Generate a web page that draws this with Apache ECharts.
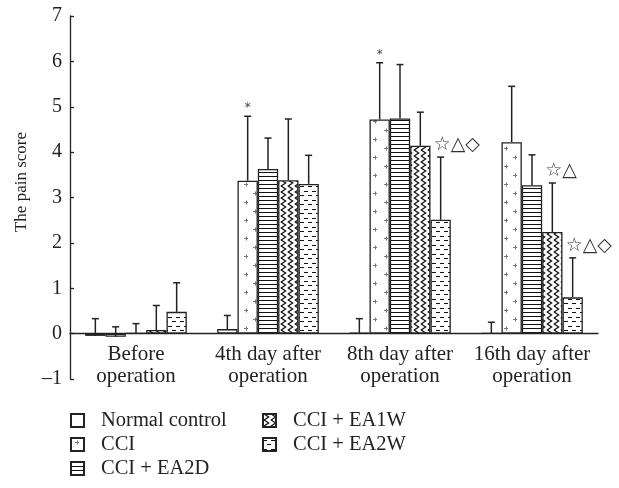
<!DOCTYPE html>
<html><head><meta charset="utf-8">
<script src="https://cdn.jsdelivr.net/npm/echarts@6/dist/echarts.min.js"></script>
<style>html,body{margin:0;padding:0;background:#fff}#c{width:619px;height:488px}</style>
</head><body><div id="c"></div>
<script>
// ---- data ----
const categories = ['Before\noperation', '4th day after\noperation', '8th day after\noperation', '16th day after\noperation'];
const seriesNames = ['Normal control', 'CCI', 'CCI + EA2D', 'CCI + EA1W', 'CCI + EA2W'];
const normalControl = [-0.05, 0.10, 0.02, 0.01];
const normalControlUpper = [0.33, 0.40, 0.33, 0.25];
const cci = [-0.07, 3.37, 4.72, 4.22];
const cciUpper = [0.15, 4.79, 5.97, 5.45];
const ea2d = [0.01, 3.63, 4.74, 3.27];
const ea2dUpper = [0.22, 4.31, 5.93, 3.94];
const ea1w = [0.08, 3.38, 4.14, 2.24];
const ea1wUpper = [0.62, 4.73, 4.88, 3.32];
const ea2w = [0.48, 3.30, 2.51, 0.80];
const ea2wUpper = [1.12, 3.93, 3.89, 1.67];
const yTicks = [-1, 0, 1, 2, 3, 4, 5, 6, 7];
const annotations = [
  { cat: 1, s: 1, text: '*' },
  { cat: 2, s: 1, text: '*' },
  { cat: 2, s: 4, text: '☆△◇' },
  { cat: 3, s: 3, text: '☆△' },
  { cat: 3, s: 4, text: '☆△◇' }
];

const values = [normalControl, cci, ea2d, ea1w, ea2w];
const uppers = [normalControlUpper, cciUpper, ea2dUpper, ea1wUpper, ea2wUpper];

// ---- patterns ----
function tile(w, h, draw) {
  const c = document.createElement('canvas');
  c.width = w; c.height = h;
  const g = c.getContext('2d');
  g.fillStyle = '#fff'; g.fillRect(0, 0, w, h);
  draw(g);
  return { image: c, repeat: 'repeat' };
}
const patWhite = '#ffffff';
const patPlus = tile(20, 18, g => {
  g.strokeStyle = '#777'; g.lineWidth = 1;
  [[6, 4], [15, 13]].forEach(([x, y]) => {
    g.beginPath(); g.moveTo(x - 2, y + 0.5); g.lineTo(x + 2, y + 0.5);
    g.moveTo(x + 0.5, y - 1.5); g.lineTo(x + 0.5, y + 2.5); g.stroke();
  });
});
const patHLines = tile(4, 4, g => {
  g.fillStyle = '#111'; g.fillRect(0, 0, 4, 1);
});
const patZig = tile(7, 6, g => {
  g.strokeStyle = '#111'; g.lineWidth = 1.3;
  g.beginPath(); g.moveTo(0.8, -0.2); g.lineTo(5.6, 3); g.lineTo(0.8, 6.2); g.stroke();
});
const patDash = tile(8, 9, g => {
  g.fillStyle = '#111';
  g.fillRect(0, 2, 4, 1);
  g.fillRect(4, 6, 4, 1);
});
const fills = [patWhite, patPlus, patHLines, patZig, patDash];

const FONT = 'Liberation Serif';
const GAP = 0.23;

const barSeries = seriesNames.map((n, i) => ({
  name: n, type: 'bar', data: values[i],
  barGap: '0%', barCategoryGap: (GAP * 100) + '%',
  itemStyle: { color: fills[i], borderColor: '#222', borderWidth: 1.3 },
  emphasis: { disabled: true }, silent: true
}));

const errData = [];
values.forEach((arr, s) => arr.forEach((v, c) => errData.push([c, uppers[s][c], v, s])));
const annData = annotations.map((a, i) => [a.cat, uppers[a.s][a.cat], a.s, i]);

function barX(api, cat, val, s) {
  const p = api.coord([cat, val]);
  const band = api.size([1, 0])[0];
  const bw = band * (1 - GAP) / 5;
  return [p[0] + (s - 2) * bw, p[1]];
}

const legendText = { fontFamily: FONT, fontSize: 20.5, color: '#222', lineHeight: 20, padding: [0, 0, 0, 12] };

const option = {
  animation: false,
  backgroundColor: '#fff',
  grid: { left: 70, right: 21, top: 16, bottom: 109 },
  xAxis: {
    type: 'category', data: categories,
    axisLine: { onZero: true, lineStyle: { color: '#222', width: 1.3 } },
    axisTick: { inside: true, length: 5, lineStyle: { color: '#222', width: 1.3 } },
    axisLabel: { fontFamily: FONT, fontSize: 21, color: '#222', lineHeight: 22, margin: -36, interval: 0 },
    splitLine: { show: false }
  },
  yAxis: {
    type: 'value', min: -1, max: 7, interval: 1,
    axisLine: { show: true, lineStyle: { color: '#222', width: 1.3 } },
    axisTick: { show: true, inside: true, length: 4, lineStyle: { color: '#222', width: 1.3 } },
    axisLabel: {
      fontFamily: FONT, fontSize: 20, color: '#222', margin: 8,
      formatter: v => yTicks.includes(v) ? (v < 0 ? '\u2013' + Math.abs(v) : String(v)) : ''
    },
    splitLine: { show: false }
  },
  legend: [
    {
      data: seriesNames.slice(0, 3), orient: 'vertical', left: 70, top: 410, padding: 0,
      itemWidth: 13, itemHeight: 13, itemGap: 3, icon: 'rect', selectedMode: false,
      textStyle: legendText
    },
    {
      data: seriesNames.slice(3), orient: 'vertical', left: 262, top: 410, padding: 0,
      itemWidth: 13, itemHeight: 13, itemGap: 3, icon: 'rect', selectedMode: false,
      textStyle: legendText
    }
  ],
  graphic: [{
    type: 'text', x: 22, y: 182, rotation: Math.PI / 2,
    style: { text: 'The pain score', fontFamily: FONT, fontSize: 17, fill: '#222', align: 'center', verticalAlign: 'middle' }
  }],
  series: barSeries.concat([
    {
      type: 'custom', name: 'err', data: errData, encode: { x: 0, y: 1 }, silent: true, z: 3,
      renderItem: (params, api) => {
        const cat = api.value(0), up = api.value(1), val = api.value(2), s = api.value(3);
        const b = barX(api, cat, val, s);
        const t = api.coord([cat, up]);
        const st = { stroke: '#222', lineWidth: 1.5 };
        return {
          type: 'group', children: [
            { type: 'line', shape: { x1: b[0], y1: b[1], x2: b[0], y2: t[1] }, style: st },
            { type: 'line', shape: { x1: b[0] - 3.5, y1: t[1], x2: b[0] + 3.5, y2: t[1] }, style: st }
          ]
        };
      }
    },
    {
      type: 'custom', name: 'ann', data: annData, encode: { x: 0, y: 1 }, silent: true, z: 4,
      renderItem: (params, api) => {
        const cat = api.value(0), up = api.value(1), s = api.value(2), i = api.value(3);
        const b = barX(api, cat, up, s);
        const a = annotations[i];
        if (a.text === '*') {
          return { type: 'text', x: b[0], y: b[1] - 8,
            style: { text: '*', fontFamily: 'DejaVu Sans', fontSize: 12, fill: '#444', align: 'center', verticalAlign: 'middle' } };
        }
        return { type: 'text', x: b[0] - 7, y: b[1] - 12,
          style: { text: a.text, fontFamily: 'DejaVu Sans', fontSize: 19, fill: '#333', align: 'left', verticalAlign: 'middle' } };
      }
    }
  ])
};
const chart = echarts.init(document.getElementById('c'), null, { renderer: 'canvas' });
chart.setOption(option);
</script>
</body></html>
